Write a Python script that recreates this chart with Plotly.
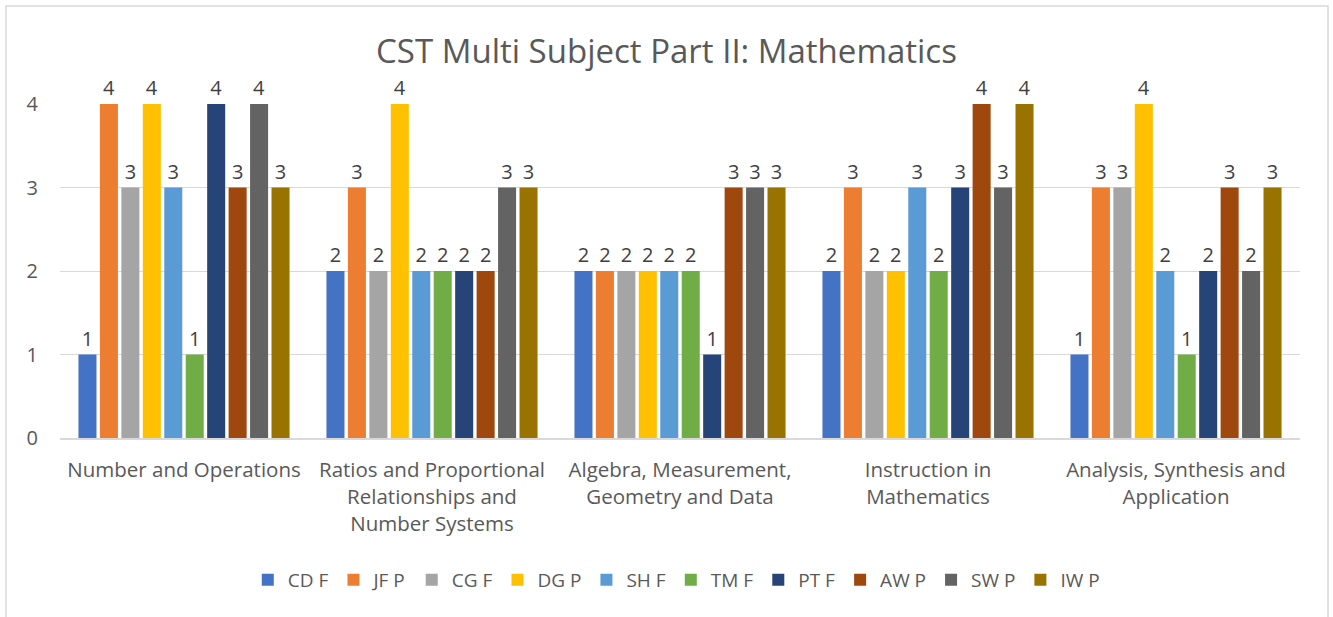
import plotly.graph_objects as go

categories = ["Number and Operations",
              "Ratios and Proportional<br>Relationships and<br>Number Systems",
              "Algebra, Measurement,<br>Geometry and Data",
              "Instruction in<br>Mathematics",
              "Analysis, Synthesis and<br>Application"]
series_names = ["CD F", "JF P", "CG F", "DG P", "SH F", "TM F", "PT F", "AW P", "SW P", "IW P"]
cd_f = [1, 2, 2, 2, 1]
jf_p = [4, 3, 2, 3, 3]
cg_f = [3, 2, 2, 2, 3]
dg_p = [4, 4, 2, 2, 4]
sh_f = [3, 2, 2, 3, 2]
tm_f = [1, 2, 2, 2, 1]
pt_f = [4, 2, 1, 3, 2]
aw_p = [3, 2, 3, 4, 3]
sw_p = [4, 3, 3, 3, 2]
iw_p = [3, 3, 3, 4, 3]
series_values = [cd_f, jf_p, cg_f, dg_p, sh_f, tm_f, pt_f, aw_p, sw_p, iw_p]
colors = ["#4472C4", "#ED7D31", "#A5A5A5", "#FFC000", "#5B9BD5",
          "#70AD47", "#264478", "#9E480E", "#636363", "#997300"]

FONT = "Open Sans"
fig = go.Figure()
for name, vals, col in zip(series_names, series_values, colors):
    fig.add_trace(go.Bar(
        x=categories, y=vals, name=name, marker=dict(color=col, line=dict(width=0)),
        text=vals, textposition="outside", cliponaxis=False, constraintext="none",
        textfont=dict(family=FONT, size=20, color="#404040"),
    ))

fig.update_layout(
    width=1333, height=617,
    margin=dict(l=60, r=33, t=104, b=179, autoexpand=False),
    paper_bgcolor="white", plot_bgcolor="white",
    barmode="group", bargap=0.135, bargroupgap=0.16,
    title=dict(text="CST Multi Subject Part II: Mathematics", x=0.5, xanchor="center",
               y=1 - 51 / 617, yanchor="middle",
               font=dict(family=FONT, size=33, color="#595959")),
    font=dict(family=FONT, color="#595959"),
    xaxis=dict(showgrid=False, showline=True, linecolor="#D9D9D9", linewidth=1.5,
               ticks="", automargin=False, ticklabelstandoff=13,
               tickfont=dict(family=FONT, size=20.5, color="#595959")),
    yaxis=dict(range=[0, 4], dtick=1, showgrid=True, gridcolor="#D9D9D9", gridwidth=1,
               zeroline=False, showline=False, ticks="", ticklabelstandoff=21,
               automargin=False,
               tickfont=dict(family=FONT, size=20, color="#595959")),
    legend=dict(orientation="h", x=0.497, xanchor="center", y=(438 - 580) / 334, yanchor="middle",
                font=dict(family=FONT, size=19, color="#595959"), traceorder="normal"),
    showlegend=True,
)
fig.add_shape(type="rect", xref="paper", yref="paper",
              x0=(6 - 60) / 1240, x1=(1328 - 60) / 1240,
              y0=(438 - 640) / 334, y1=(438 - 6) / 334,
              line=dict(color="#D9D9D9", width=1.5), layer="below")
fig.write_html("out.html", config={"displayModeBar": False},
               post_script="document.body.style.margin='0';")
